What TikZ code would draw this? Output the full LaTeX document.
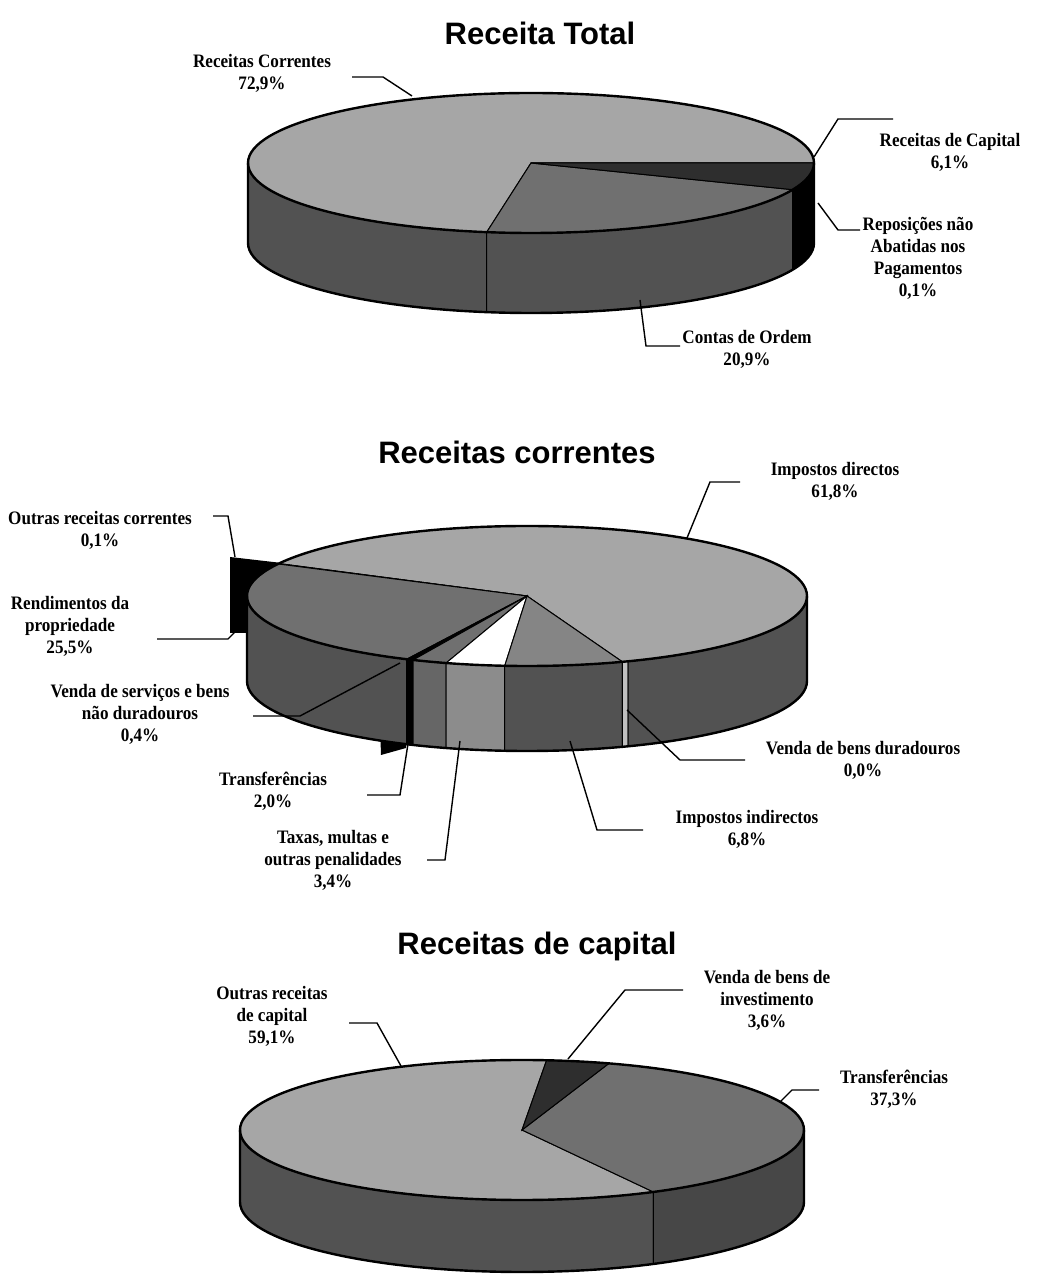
\documentclass[tikz,border=0pt]{standalone}
\usepackage{fontspec}
\setmainfont{Liberation Serif}[FakeStretch=0.9]
\newfontfamily\ttlfont{Liberation Sans}
\usetikzlibrary{calc}
\colorlet{lite}{black!35}
\colorlet{midlite}{black!48}
\colorlet{mid}{black!56}
\colorlet{dark}{black!82}
\colorlet{side}{black!68}
\tikzstyle{lbl}=[align=center, inner sep=0pt, font=\fontsize{9.5}{11}\selectfont\bfseries]
\tikzstyle{ttl}=[inner sep=0pt, font=\ttlfont\fontsize{15.5}{18}\selectfont\bfseries]
\tikzstyle{leader}=[line width=0.7pt]
\tikzstyle{cut}=[line width=0.5pt]
\tikzstyle{rim}=[line width=1.2pt]
% slices of a flat pie, centre at the scope origin
\newcommand{\topslice}[3]{\filldraw[cut,fill=#3] (0,0) -- ({\pieA*cos(#1)},{\pieB*sin(#1)}) arc[start angle=#1,end angle=#2,x radius=\pieA,y radius=\pieB] -- cycle;}
\newcommand{\sideslice}[3]{\filldraw[cut,fill=#3] ({\pieA*cos(#1)},{\pieB*sin(#1)}) arc[start angle=#1,end angle=#2,x radius=\pieA,y radius=\pieB] -- ++(0,-\pieD) arc[start angle=#2,end angle=#1,x radius=\pieA,y radius=\pieB] -- cycle;}
\newcommand{\pierim}{\draw[rim] (0,0) ellipse[x radius=\pieA,y radius=\pieB]; \draw[rim] (-\pieA,0) -- (-\pieA,-\pieD) arc[start angle=180,end angle=360,x radius=\pieA,y radius=\pieB] -- (\pieA,0);}

\begin{document}
\begin{tikzpicture}[x=0.5pt,y=0.5pt]
	\fill[white] (0,0) rectangle (1044,1281);
	\useasboundingbox (0,0) rectangle (1044,1281);

	% Receita Total
	\node[ttl] (t1) at (540,1248) {Receita Total};
	\begin{scope}[shift={(531,1118)}]
		\def\pieA{283}\def\pieB{70}\def\pieD{80}
		\sideslice{180}{261}{side}
		\sideslice{261}{337.6}{side}
		\sideslice{337.6}{360}{black}
		\topslice{0}{261}{lite}
		\topslice{261}{337.6}{mid}
		\topslice{337.6}{360}{dark}
		\pierim
	\end{scope}
	\node[lbl] (rc) at (262,1208) {Receitas Correntes\\72,9\%};
	\node[lbl] (rk) at (950,1129) {Receitas de Capital\\6,1\%};
	\node[lbl] (rp) at (918,1023) {Reposições não\\Abatidas nos\\Pagamentos\\0,1\%};
	\node[lbl] (co) at (747,932) {Contas de Ordem\\20,9\%};
	\coordinate (rc1) at (412,1185); \coordinate (rc2) at (383,1204); \coordinate (rc3) at (352,1204);
	\coordinate (rk1) at (814,1124); \coordinate (rk2) at (838,1162); \coordinate (rk3) at (893,1162);
	\coordinate (rp1) at (818,1078); \coordinate (rp2) at (838,1051); \coordinate (rp3) at (860,1051);
	\coordinate (co1) at (640,981); \coordinate (co2) at (646,935); \coordinate (co3) at (680,935);

	% Receitas correntes
	\node[ttl] (t2) at (517,829) {Receitas correntes};
	\fill[black] (230,724) -- (282,718) -- (247,685) -- (247,648) -- (230,648) -- cycle;
	\fill[black] (380,556) -- (408,549) -- (406,533) -- (381,526) -- cycle;
	\begin{scope}[shift={(527,685)}]
		\def\pieA{280}\def\pieB{70}\def\pieD{85}
		\sideslice{180}{244.56}{side}
		\sideslice{244.56}{246}{black}
		\sideslice{246}{253.2}{black!60}
		\sideslice{253.2}{265.44}{black!45}
		\sideslice{265.44}{289.92}{side}
		\sideslice{289.92}{291.2}{black!25}
		\sideslice{291.2}{360}{side}
		\topslice{-70.08}{152.4}{lite}
		\topslice{152.4}{152.76}{black}
		\topslice{152.76}{244.56}{mid}
		\topslice{244.56}{246}{black}
		\topslice{246}{253.2}{mid}
		\topslice{253.2}{265.44}{white}
		\topslice{265.44}{289.92}{midlite}
		\pierim
	\end{scope}
	\node[lbl] (id) at (835,799.5) {Impostos directos\\61,8\%};
	\node[lbl] (orc) at (100,750.5) {Outras receitas correntes\\0,1\%};
	\node[lbl] (rd) at (70,655) {Rendimentos da\\propriedade\\25,5\%};
	\node[lbl] (vs) at (140,567) {Venda de serviços e bens\\não duradouros\\0,4\%};
	\node[lbl] (tr) at (273,490) {Transferências\\2,0\%};
	\node[lbl] (tx) at (333,421) {Taxas, multas e\\outras penalidades\\3,4\%};
	\node[lbl] (ii) at (747,451.5) {Impostos indirectos\\6,8\%};
	\node[lbl] (vb) at (863,521) {Venda de bens duradouros\\0,0\%};
	\coordinate (id1) at (687,743); \coordinate (id2) at (710,799); \coordinate (id3) at (740,799);
	\coordinate (orc1) at (235,724); \coordinate (orc2) at (228,765); \coordinate (orc3) at (213,765);
	\coordinate (rd1) at (235,649); \coordinate (rd2) at (228,642); \coordinate (rd3) at (157,642);
	\coordinate (vs1) at (400,618); \coordinate (vs2) at (300,565); \coordinate (vs3) at (253,565);
	\coordinate (tr1) at (410,550); \coordinate (tr2) at (400,486); \coordinate (tr3) at (367,486);
	\coordinate (tx1) at (460,540); \coordinate (tx2) at (445,421); \coordinate (tx3) at (427,421);
	\coordinate (ii1) at (570,540); \coordinate (ii2) at (597,451); \coordinate (ii3) at (643,451);
	\coordinate (vb1) at (627,571); \coordinate (vb2) at (680,521); \coordinate (vb3) at (745,521);

	% Receitas de capital
	\node[ttl] (t3) at (537,335) {Receitas de capital};
	\begin{scope}[shift={(522,151)}]
		\def\pieA{282}\def\pieB{70}\def\pieD{72}
		\sideslice{180}{297.76}{side}
		\sideslice{297.76}{360}{black!72}
		\topslice{85}{297.76}{lite}
		\topslice{297.76}{432.04}{mid}
		\topslice{72.04}{85}{dark}
		\pierim
	\end{scope}
	\node[lbl] (oc) at (272,265) {Outras receitas\\de capital\\59,1\%};
	\node[lbl] (vi) at (767,281) {Venda de bens de\\investimento\\3,6\%};
	\node[lbl] (tk) at (894,191.5) {Transferências\\37,3\%};
	\coordinate (oc1) at (401,215); \coordinate (oc2) at (377,258); \coordinate (oc3) at (349,258);
	\coordinate (vi1) at (568,222); \coordinate (vi2) at (625,291); \coordinate (vi3) at (683,291);
	\coordinate (tk1) at (780,179); \coordinate (tk2) at (792,191); \coordinate (tk3) at (819,191);

	\foreach \n in {rc,rk,rp,co,id,orc,rd,vs,tr,tx,ii,vb,oc,vi,tk}
	\draw[leader] (\n1) -- (\n2) -- (\n3);
\end{tikzpicture}
\end{document}
